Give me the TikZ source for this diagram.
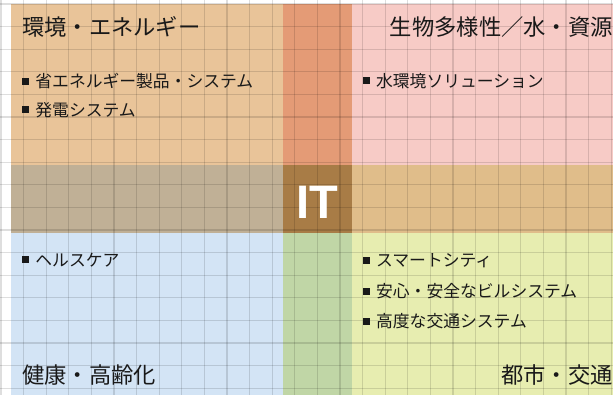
\documentclass[tikz,border=0pt]{standalone}
\usepackage{fontspec}
\newfontfamily\jp{Noto Sans CJK JP}
\newfontfamily\itfont{Liberation Sans}
\definecolor{cTL}{RGB}{233,196,153}
\definecolor{cTS}{RGB}{228,155,118}
\definecolor{cTR}{RGB}{247,203,198}
\definecolor{cLB}{RGB}{192,176,150}
\definecolor{cCT}{RGB}{168,124,70}
\definecolor{cRB}{RGB}{224,189,138}
\definecolor{cBL}{RGB}{211,228,245}
\definecolor{cBS}{RGB}{192,214,166}
\definecolor{cBR}{RGB}{231,237,176}
\definecolor{txt}{RGB}{25,25,25}
\newcommand\mybul{\raisebox{2.9pt}{\rule{7pt}{7pt}}\hspace{6.2pt}}
\begin{document}
\begin{tikzpicture}[x=1pt,y=-1pt,
  title/.style={font=\jp\fontsize{22.3}{26}\selectfont, inner sep=0pt, text=txt},
  item/.style={font=\jp\fontsize{16.8}{20}\selectfont, inner sep=0pt, anchor=base west, text=txt},
  gridline/.style={black, opacity=0.13, line width=1.2pt}]
\useasboundingbox (0,0) rectangle (613,395);
\fill[white] (0,0) rectangle (613,395);
% colored regions
\fill[cTL] (11,4) rectangle (283.3,165.3);
\fill[cTS] (283.3,4) rectangle (351.7,165.3);
\fill[cTR] (351.7,4) rectangle (613,165.3);
\fill[cLB] (11,165.3) rectangle (283.3,233.3);
\fill[cCT] (283.3,165.3) rectangle (351.7,233.3);
\fill[cRB] (351.7,165.3) rectangle (613,233.3);
\fill[cBL] (11,233.3) rectangle (283.3,395);
\fill[cBS] (283.3,233.3) rectangle (351.7,395);
\fill[cBR] (351.7,233.3) rectangle (613,395);
% grid
\foreach \k in {0,...,27} {
  \draw[gridline] ({1+22.6*\k},0) -- ({1+22.6*\k},395);
}
\foreach \k in {0,...,17} {
  \draw[gridline] (0,{4+22.6*\k}) -- (613,{4+22.6*\k});
}
% titles
\node[title, anchor=base west] (tl) at (22,35.8) {環境・エネルギー};
\node[title, anchor=base east] (tr) at (613,35.5) {生物多様性／水・資源};
\node[title, anchor=base west] (bl) at (22,383.5) {健康・高齢化};
\node[title, anchor=base east] (br) at (613,383.5) {都市・交通};
% items
\node[item] (tl1) at (22,88) {\mybul 省エネルギー製品・システム};
\node[item] (tl2) at (22,116.4) {\mybul 発電システム};
\node[item] (tr1) at (362.7,87.4) {\mybul 水環境ソリューション};
\node[item] (bl1) at (22,266.4) {\mybul ヘルスケア};
\node[item] (br1) at (362.7,267) {\mybul スマートシティ};
\node[item] (br2) at (362.7,297.4) {\mybul 安心・安全なビルシステム};
\node[item] (br3) at (362.7,327.4) {\mybul 高度な交通システム};
% IT
\node[font=\itfont\bfseries\fontsize{47}{50}\selectfont, text=white, inner sep=0pt] (it) at (317.8,202.2) {IT};
\end{tikzpicture}
\end{document}
